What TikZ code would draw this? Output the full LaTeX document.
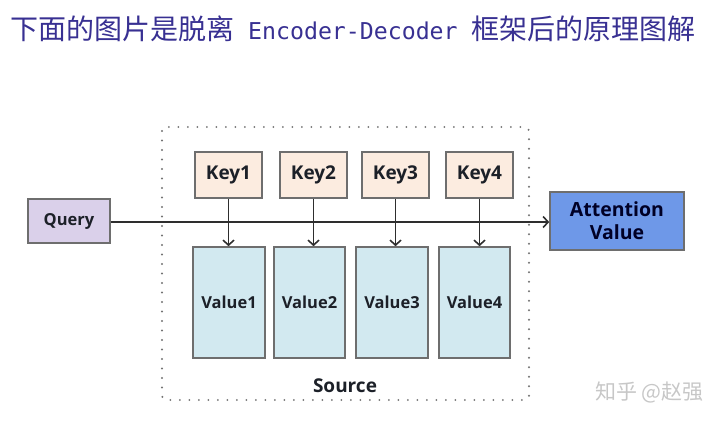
\documentclass[tikz,border=0pt]{standalone}
\usepackage{fontspec}
\setmainfont{Open Sans}
\newfontfamily\cjk{Noto Sans CJK SC}
\newfontfamily\titlemono{DejaVu Sans Mono}
\usetikzlibrary{arrows.meta}
\usetikzlibrary{calc}

\definecolor{titleblue}{RGB}{56,48,146}
\definecolor{keyfill}{RGB}{252,236,224}
\definecolor{valuefill}{RGB}{210,233,240}
\definecolor{queryfill}{RGB}{218,208,234}
\definecolor{attfill}{RGB}{110,152,232}
\definecolor{boxline}{RGB}{110,110,110}
\definecolor{textdark}{RGB}{28,32,40}

\tikzset{
  box/.style={draw=boxline,line width=1.6pt,inner sep=0pt,text=textdark,font=\bfseries},
  keybox/.style={box,fill=keyfill,minimum width=67pt,minimum height=46pt,font=\bfseries\fontsize{19}{23}\selectfont},
  valuebox/.style={box,fill=valuefill,minimum width=71pt,minimum height=111pt,font=\bfseries\fontsize{16.5}{20}\selectfont},
  link/.style={draw=black!82,line width=1.8pt,-{Straight Barb[length=5pt,width=11pt,line width=1.6pt]}}
}

\begin{document}
\begin{tikzpicture}[x=1pt,y=-1pt]
      \useasboundingbox (0,0) rectangle (719,426);
      % title
      \node[anchor=base west,inner sep=0pt,text=titleblue] (title) at (10,39)
        {{\cjk\fontsize{28}{30}\selectfont 下面的图片是脱离}{\titlemono\fontsize{23.2}{26}\selectfont\ Encoder-Decoder\ }{\cjk\fontsize{28}{30}\selectfont 框架后的原理图解}};
      % source frame
      \draw[black!55,line width=2.2pt,line cap=round,dash pattern=on 0pt off 9.5pt,rounded corners=4pt]
        (162,127) rectangle (529,400);
      \node[font=\bfseries\fontsize{19}{23}\selectfont,text=textdark] (source) at (345,386) {Source};
      % keys
      \node[keybox] (k1) at (228.5,175) {Key1};
      \node[keybox] (k2) at (313.5,175) {Key2};
      \node[keybox] (k3) at (395.5,175) {Key3};
      \node[keybox] (k4) at (479.5,175) {Key4};
      % values
      \node[valuebox,minimum width=72pt] (v1) at (229,302.5) {Value1};
      \node[valuebox] (v2) at (309.5,302.5) {Value2};
      \node[valuebox,minimum width=72pt] (v3) at (392,302.5) {Value3};
      \node[valuebox] (v4) at (474.5,302.5) {Value4};
      % query and result
      \node[box,fill=queryfill,minimum width=82pt,minimum height=44pt,font=\bfseries\fontsize{16.5}{20}\selectfont] (query) at (69,221) {Query};
      \node[box,fill=attfill,minimum width=134pt,minimum height=58pt,align=center,text=black!85!blue,font=\bfseries\fontsize{19.5}{23}\selectfont] (att) at (617,221) {Attention\\Value};
      \draw[link,line width=2.6pt] (query.east |- 0,222) -- (att.west |- 0,222);
      \draw[link] (k1.south) -- (k1.south |- v1.north);
      \draw[link] (k2.south) -- (k2.south |- v2.north);
      \draw[link] (k3.south) -- (k3.south |- v3.north);
      \draw[link] (k4.south) -- (k4.south |- v4.north);
      % watermark
      \node[anchor=base west,inner sep=0pt,text=black!22] (mark) at (595,399)
        {\cjk\fontsize{21}{24}\selectfont 知乎 @赵强};
    \end{tikzpicture}
\end{document}
